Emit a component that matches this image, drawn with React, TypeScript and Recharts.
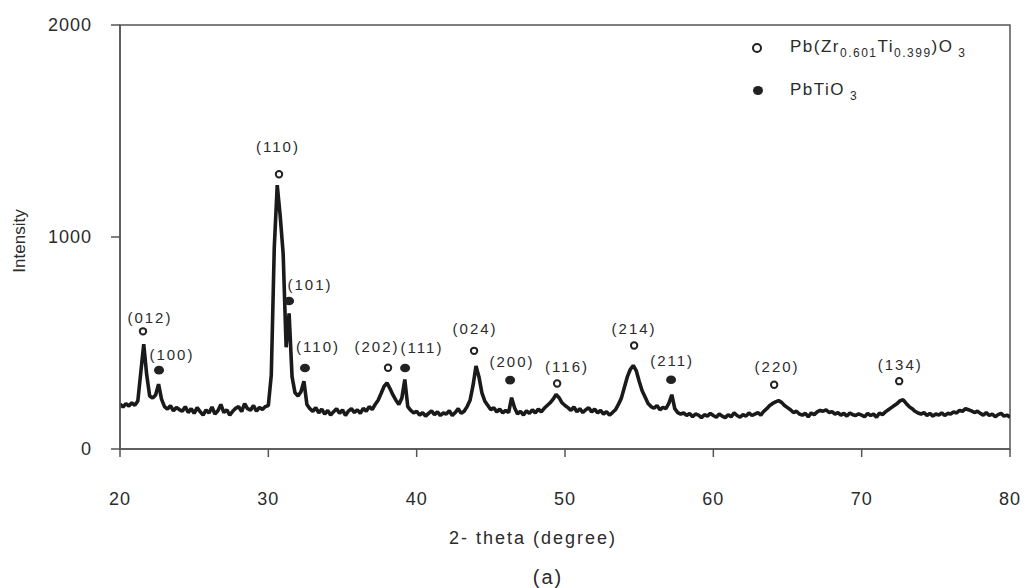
import React from "react";
import { ComposedChart, Line, Scatter, XAxis, YAxis, ReferenceArea } from "recharts";

// XRD pattern, sampled every 0.2 degree from 20 to 80
const thetaStart = 20;
const thetaStep = 0.2;
const intensity = [
  212, 198, 214, 203, 218, 206, 226, 360, 494, 350,
  250, 240, 255, 306, 235, 200, 188, 205, 180, 196,
  186, 178, 200, 172, 190, 168, 195, 176, 160, 184,
  170, 198, 165, 180, 210, 172, 185, 160, 178, 192,
  200, 176, 214, 190, 183, 205, 178, 196, 186, 200,
  205, 350, 950, 1245, 1100, 920, 480, 640, 340, 265,
  250, 270, 320, 210, 190, 178, 195, 170, 188, 165,
  182, 160, 176, 190, 168, 185, 158, 179, 190, 172,
  185, 168, 192, 178, 200, 186, 210, 230, 262, 295,
  312, 285, 255, 230, 210, 240, 328, 200, 182, 170,
  178, 160, 172, 155, 168, 180, 162, 175, 158, 170,
  165, 180, 158, 172, 190, 168, 178, 200, 230, 300,
  392, 340, 265, 225, 205, 185, 195, 175, 188, 170,
  182, 172, 242, 195, 165, 178, 160, 180, 168, 185,
  170, 188, 175, 192, 205, 218, 235, 257, 242, 218,
  205, 195, 182, 198, 176, 190, 172, 185, 195, 175,
  188, 170, 182, 165, 176, 160, 172, 185, 210, 240,
  290, 340, 375, 394, 370, 320, 275, 245, 215, 200,
  192, 205, 185, 196, 190, 215, 256, 190, 172, 165,
  170, 158, 168, 152, 165, 160, 148, 162, 155, 168,
  158, 150, 165, 155, 148, 162, 152, 170, 158, 150,
  162, 155, 170, 158, 165, 172, 160, 178, 190, 205,
  215, 222, 228, 220, 205, 195, 185, 172, 178, 165,
  160, 168, 152, 170, 162, 175, 182, 178, 185, 172,
  176, 165, 172, 160, 168, 155, 170, 162, 158, 166,
  160, 152, 168, 158, 165, 150, 170, 162, 175, 185,
  195, 205, 215, 228, 232, 215, 200, 190, 178, 170,
  165, 172, 158, 168, 155, 165, 160, 170, 158, 168,
  165, 175, 170, 182, 178, 190, 185, 180, 172, 178,
  168, 160, 172, 158, 165, 152, 162, 168, 155, 160,
  150,
];

// Pb(Zr0.601Ti0.399)O3 reflections (open circles)
const pztLabels = ["(012)", "(110)", "(202)", "(024)", "(116)", "(214)", "(220)", "(134)"];
const pztTheta = [21.55, 30.72, 38.07, 43.87, 49.47, 54.66, 64.1, 72.53];
const pztMark = [555, 1296, 383, 463, 309, 488, 303, 320];
const pztLabelTheta = [22.02, 30.65, 37.33, 43.94, 50.14, 54.66, 64.3, 72.6];
const pztLabelLevel = [621, 1428, 482, 570, 389, 568, 388, 400];

// PbTiO3 reflections (filled circles)
const ptoLabels = ["(100)", "(101)", "(110)", "(111)", "(200)", "(211)"];
const ptoTheta = [22.63, 31.4, 32.47, 39.22, 46.3, 57.15];
const ptoMark = [372, 698, 382, 382, 325, 327];
const ptoLabelTheta = [23.5, 32.81, 33.35, 40.36, 46.43, 57.22];
const ptoLabelLevel = [447, 778, 485, 480, 414, 416];

const xTicks = [20, 30, 40, 50, 60, 70, 80];
const yTicks = [0, 1000, 2000];

const FONT = "'Liberation Sans', Arial, sans-serif";
const INK = "#2b2b2b";

const pattern = intensity.map((v, i) => ({ x: +(thetaStart + i * thetaStep).toFixed(1), y: v }));
const pztMarks = pztTheta.map((t, i) => ({ x: t, y: pztMark[i] }));
const ptoMarks = ptoTheta.map((t, i) => ({ x: t, y: ptoMark[i] }));
const peakLabels = [
  ...pztLabels.map((l, i) => ({ x: pztLabelTheta[i], y: pztLabelLevel[i], label: l })),
  ...ptoLabels.map((l, i) => ({ x: ptoLabelTheta[i], y: ptoLabelLevel[i], label: l })),
];

const XTick = ({ x, y, payload }: any) => (
  <text x={x} y={y} dy={40} textAnchor="middle" dominantBaseline="central" fontSize={18} fill={INK} fontFamily={FONT} letterSpacing={1}>
    {payload.value}
  </text>
);

const YTick = ({ x, y, payload }: any) => (
  <text x={x} y={y} textAnchor="end" dominantBaseline="central" fontSize={18} fill={INK} fontFamily={FONT} letterSpacing={1}>
    {payload.value}
  </text>
);

const OpenMark = (p: any) => <circle cx={p.cx} cy={p.cy} r={3.2} fill="#fff" stroke="#222" strokeWidth={2} />;
const FilledMark = (p: any) => <ellipse cx={p.cx} cy={p.cy} rx={5} ry={4.3} fill="#222" />;
const PeakText = (p: any) => (
  <text x={p.cx} y={p.cy} textAnchor="middle" dominantBaseline="central" fontSize={15} fill={INK} fontFamily={FONT} letterSpacing={2}>
    {p.payload.label}
  </text>
);

const subStyle: React.CSSProperties = { fontSize: 12, verticalAlign: "-5px", lineHeight: 0 };

export default function App() {
  return (
    <div style={{ position: "absolute", left: 0, top: 0, width: 1027, height: 588, background: "#fff", fontFamily: FONT, color: INK }}>
      <ComposedChart width={1027} height={588} data={pattern} margin={{ top: 25, right: 17, bottom: 99, left: 80 }}>
        <XAxis
          dataKey="x"
          type="number"
          domain={[20, 80]}
          ticks={xTicks}
          height={40}
          tickSize={8}
          tickMargin={2}
          tick={<XTick />}
          stroke="#555"
          strokeWidth={1.5}
          allowDataOverflow
        />
        <YAxis
          type="number"
          domain={[0, 2000]}
          ticks={yTicks}
          width={40}
          tickSize={9}
          tickMargin={19}
          tick={<YTick />}
          stroke="#555"
          strokeWidth={1.5}
          allowDataOverflow
        />
        <ReferenceArea x1={20} x2={80} y1={0} y2={2000} fill="none" stroke="#555" strokeWidth={1.5} ifOverflow="visible" />
        <Line type="linear" dataKey="y" stroke="#1a1a1a" strokeWidth={3.6} strokeLinejoin="bevel" dot={false} isAnimationActive={false} />
        <Scatter data={pztMarks} dataKey="y" shape={OpenMark} isAnimationActive={false} />
        <Scatter data={ptoMarks} dataKey="y" shape={FilledMark} isAnimationActive={false} />
        <Scatter data={peakLabels} dataKey="y" shape={PeakText} isAnimationActive={false} />
      </ComposedChart>

      {/* legend */}
      <div style={{ position: "absolute", left: 752, top: 36, fontSize: 17, letterSpacing: 1.5, lineHeight: "22px" }}>
        <div style={{ position: "relative", height: 22 }}>
          <span style={{ position: "absolute", left: 0, top: 7, width: 6, height: 6, border: "2px solid #222", borderRadius: "50%" }} />
          <span style={{ position: "absolute", left: 38, top: 0, whiteSpace: "nowrap" }}>
            Pb(Zr<span style={subStyle}>0.601</span>Ti<span style={subStyle}>0.399</span>)O<span style={subStyle}> 3</span>
          </span>
        </div>
        <div style={{ position: "relative", height: 22, marginTop: 21 }}>
          <span style={{ position: "absolute", left: 1, top: 7, width: 10, height: 9, background: "#222", borderRadius: "50%" }} />
          <span style={{ position: "absolute", left: 38, top: 0, whiteSpace: "nowrap" }}>
            PbTiO<span style={subStyle}> 3</span>
          </span>
        </div>
      </div>

      {/* axis titles */}
      <div style={{ position: "absolute", left: 20, top: 241, transform: "translate(-50%, -50%) rotate(-90deg)", fontSize: 17, whiteSpace: "nowrap" }}>
        Intensity
      </div>
      <div style={{ position: "absolute", left: 533, top: 538, transform: "translate(-50%, -50%)", fontSize: 18, letterSpacing: 2, whiteSpace: "nowrap" }}>
        2- theta (degree)
      </div>
      <div style={{ position: "absolute", left: 548, top: 577, transform: "translate(-50%, -50%)", fontSize: 20, letterSpacing: 2, whiteSpace: "nowrap" }}>
        (a)
      </div>
    </div>
  );
}
